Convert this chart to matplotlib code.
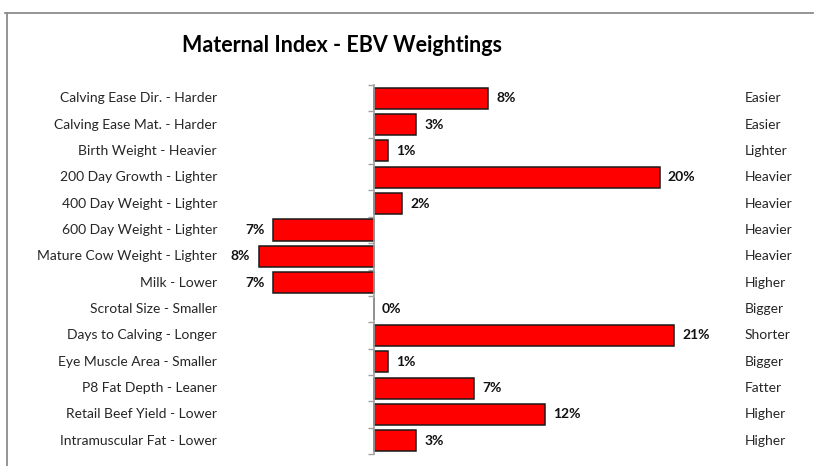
import matplotlib
matplotlib.use("Agg")
import matplotlib.pyplot as plt
import matplotlib.transforms as mtransforms
from matplotlib.lines import Line2D

categories = [
    "Calving Ease Dir. - Harder",
    "Calving Ease Mat. - Harder",
    "Birth Weight - Heavier",
    "200 Day Growth - Lighter",
    "400 Day Weight - Lighter",
    "600 Day Weight - Lighter",
    "Mature Cow Weight - Lighter",
    "Milk - Lower",
    "Scrotal Size - Smaller",
    "Days to Calving - Longer",
    "Eye Muscle Area - Smaller",
    "P8 Fat Depth - Leaner",
    "Retail Beef Yield - Lower",
    "Intramuscular Fat - Lower",
]
right_labels = [
    "Easier", "Easier", "Lighter", "Heavier", "Heavier", "Heavier", "Heavier",
    "Higher", "Bigger", "Shorter", "Bigger", "Fatter", "Higher", "Higher",
]
values = [8, 3, 1, 20, 2, -7, -8, -7, 0, 21, 1, 7, 12, 3]
title = "Maternal Index - EBV Weightings"

W, H = 814, 466
fig = plt.figure(figsize=(W / 100, H / 100), dpi=100)
plt.rcParams['font.family'] = ['Lato', 'DejaVu Sans']

# axes placement in pixels
zero_px = 373.5
px_per = 14.3
xmin, xmax = -9.5, 25
left_px = zero_px + xmin * px_per
right_px = zero_px + xmax * px_per
top_px, bot_px = 85, 454
ax = fig.add_axes([left_px / W, (H - bot_px) / H, (right_px - left_px) / W, (bot_px - top_px) / H])

n = len(categories)
ypos = list(range(n))
ax.barh(ypos, values, height=0.8, color="#FF0000", edgecolor="#1a1a1a", linewidth=1.1, zorder=3)
ax.set_xlim(xmin, xmax)
ax.set_ylim(n - 0.5, -0.5)

for s in ["top", "right", "bottom"]:
    ax.spines[s].set_visible(False)
ax.spines["left"].set_position(("data", 0))
ax.spines["left"].set_color("#a0a0a0")
ax.spines["left"].set_linewidth(1.2)
ax.spines["left"].set_zorder(4)
ax.set_yticks([i - 0.5 for i in range(n + 1)])
ax.set_yticklabels([])
ax.tick_params(axis="y", direction="out", length=4, color="#a0a0a0", width=1.0)
ax.set_xticks([])

# value labels
for y, v in zip(ypos, values):
    if v >= 0:
        ax.annotate(f"{abs(v)}%", xy=(v, y), xytext=(6, 0), textcoords="offset points",
                    ha="left", va="center", fontsize=10, fontweight="bold", color="#111111")
    else:
        ax.annotate(f"{abs(v)}%", xy=(v, y), xytext=(-6.5, 0), textcoords="offset points",
                    ha="right", va="center", fontsize=10, fontweight="bold", color="#111111")

# category labels
tr = mtransforms.blended_transform_factory(fig.transFigure, ax.transData)
for y, lab, rlab in zip(ypos, categories, right_labels):
    fig.text(217 / W, y, lab, transform=tr, ha="right", va="center", fontsize=10, color="#262626")
    fig.text(745 / W, y, rlab, transform=tr, ha="left", va="center", fontsize=10, color="#262626")

fig.text(342 / W, 1 - 46 / H, title, ha="center", va="center", fontsize=15.5, fontweight="bold", color="#000000")

# outer frame lines (top and left)
fig.add_artist(Line2D([5 / W, 813 / W], [1 - 12.5 / H, 1 - 12.5 / H], transform=fig.transFigure,
                      color="#8c8c8c", linewidth=1.3))
fig.add_artist(Line2D([7 / W, 7 / W], [1 - 12.5 / H, 0], transform=fig.transFigure,
                      color="#8c8c8c", linewidth=1.3))

fig.savefig("out.png", dpi=100)
